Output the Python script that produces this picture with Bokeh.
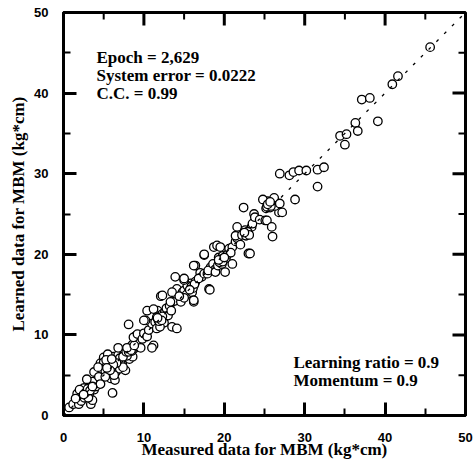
from bokeh.plotting import figure
from bokeh.models import LinearAxis, Range1d, SingleIntervalTicker, Label, Slope
from bokeh.embed import file_html
from bokeh.resources import INLINE

# measured (x) vs learned (y) values
measured = [
    0.7, 1.2, 1.9, 1.7, 2.2, 2.6, 3.4, 3.6, 2.4, 2.8, 3.0, 3.2, 3.5, 3.8, 2.9, 3.3, 4.0, 4.2, 3.6, 2.9,
    3.8, 4.4, 6.1, 2.5, 3.1, 4.6, 1.5, 2.0, 2.7, 3.0, 3.3, 3.6, 2.5,
    4.6, 5.0, 5.0, 4.8, 5.2, 5.4, 5.6, 5.8, 5.6, 6.0, 6.2, 6.4, 6.5, 6.6, 6.8, 6.9, 7.0, 7.2, 7.3, 7.5,
    7.6, 7.7, 7.8, 8.0, 8.0, 8.2, 8.3, 8.4, 8.6, 8.6, 8.8, 9.0, 9.2, 9.4, 9.6, 9.8, 5.9, 5.2, 6.4, 4.3,
    5.5, 6.8, 7.1, 7.9, 8.5, 6.3, 5.3, 7.4,
    7.0, 7.4, 7.8, 8.1, 8.4, 6.6, 6.2, 5.8, 5.4, 7.9, 8.8, 6.0,
    8.1, 9.0, 8.7, 9.2, 9.8, 10.0, 10.4, 10.6, 11.0, 11.2, 11.0, 10.2, 10.0, 10.4, 11.7, 11.2, 11.4, 11.6,
    11.8, 12.0, 12.1, 12.3, 12.5, 12.6, 12.8, 11.6, 12.0, 13.0, 13.5, 14.1, 13.2, 13.4, 13.8, 12.1, 12.3,
    13.3, 14.6, 13.9, 14.1, 14.8, 13.5, 15.0, 15.3, 15.6, 15.8, 16.0, 16.2, 16.4, 15.4, 16.2, 16.2, 15.0,
    14.4, 12.1, 11.9, 12.3, 12.2, 11.7, 15.9, 16.1, 16.3, 15.7,
    13.9, 15.0, 15.0, 16.4, 16.2, 17.0, 17.2, 16.8, 17.5, 17.9, 18.1, 18.2, 18.3, 18.0, 18.6, 18.9, 19.2,
    19.5, 19.7, 19.3, 19.8, 20.1, 20.2, 20.4, 21.0, 17.5, 17.5, 18.7, 19.1, 19.5, 20.6, 21.0, 20.8, 21.4,
    21.6, 22.0, 19.4, 19.6, 19.8, 19.3, 20.0,
    21.4, 21.6, 22.2, 22.8, 22.6, 23.0, 23.0, 23.2, 22.4, 23.4, 23.5, 23.7, 23.8, 24.4, 25.1, 25.3, 25.5,
    25.2, 25.7, 25.9, 25.4, 24.8, 26.2, 26.8, 26.0, 25.9, 27.2, 26.3, 22.7, 22.9, 23.1, 22.5,
    25.3, 25.6, 25.8, 25.4, 25.7,
    26.9, 28.1, 28.6, 29.3, 30.2, 31.6, 32.4, 31.6, 28.8, 26.9, 34.4, 35.2, 35.0, 36.3, 36.6, 37.1, 38.1,
    39.1, 40.9, 41.6, 45.6,
]
learned = [
    1.0, 1.4, 1.4, 2.7, 1.8, 2.2, 1.4, 1.9, 2.9, 2.5, 3.0, 2.7, 3.3, 3.2, 3.6, 3.8, 3.6, 4.0, 4.2, 4.5,
    5.4, 4.8, 2.8, 3.4, 2.2, 3.9, 2.1, 3.2, 2.8, 3.3, 3.1, 3.6, 2.6,
    6.5, 7.2, 6.6, 5.8, 5.5, 6.2, 7.0, 6.0, 5.2, 6.5, 7.3, 6.0, 5.4, 6.8, 7.5, 6.2, 5.8, 7.0, 6.5, 7.6,
    8.0, 5.6, 7.2, 8.2, 7.6, 7.0, 8.5, 7.8, 8.8, 7.3, 8.3, 9.0, 8.6, 9.3, 8.4, 9.8, 4.6, 4.8, 4.4, 6.0,
    7.6, 8.4, 6.6, 7.4, 8.0, 5.0, 6.9, 6.0,
    7.1, 7.3, 7.9, 7.9, 8.1, 6.5, 6.3, 5.6, 5.9, 8.4, 8.7, 7.0,
    11.3, 9.9, 9.7, 10.1, 9.5, 10.2, 9.8, 10.6, 11.4, 8.7, 8.4, 11.8, 11.8, 13.0, 13.0, 13.2, 11.6, 12.2,
    11.8, 12.4, 12.0, 12.6, 11.5, 12.8, 13.3, 10.8, 11.0, 12.4, 11.0, 10.8, 13.6, 13.0, 14.2, 14.8, 14.9,
    14.1, 14.1, 15.1, 15.7, 15.3, 15.3, 15.5, 15.0, 15.8, 16.4, 15.3, 16.1, 16.6, 16.1, 14.1, 14.3, 14.6,
    14.8, 12.1, 11.7, 12.3, 11.8, 12.1, 16.0, 15.8, 16.3, 15.6,
    17.2, 16.8, 17.0, 18.6, 18.6, 17.7, 17.2, 17.0, 17.6, 17.6, 15.7, 15.6, 18.4, 18.0, 18.8, 17.8, 18.6,
    19.2, 18.8, 19.6, 19.8, 17.8, 19.5, 20.0, 18.8, 19.9, 20.0, 20.9, 21.1, 20.9, 20.7, 20.9, 20.2, 21.6,
    22.0, 21.2, 19.0, 19.4, 19.1, 19.3, 19.6,
    22.3, 23.4, 22.4, 22.5, 23.0, 22.6, 20.1, 20.1, 25.8, 23.4, 23.8, 25.0, 24.6, 24.3, 24.2, 24.2, 26.1,
    25.7, 25.8, 26.4, 26.6, 26.8, 27.0, 25.2, 22.2, 23.4, 25.2, 26.0, 22.3, 22.8, 22.4, 22.7,
    25.9, 26.3, 26.0, 26.2, 26.5,
    30.0, 29.8, 30.2, 30.4, 30.4, 30.5, 30.8, 28.4, 26.8, 26.3, 34.7, 34.9, 33.6, 36.3, 35.3, 39.2, 39.4,
    36.5, 41.1, 42.1, 45.7,
]

x_title = "Measured data for MBM (kg*cm)"
y_title = "Learned data for MBM (kg*cm)"
upper_notes = ["Epoch = 2,629", "System error = 0.0222", "C.C. = 0.99"]
lower_notes = ["Learning ratio = 0.9", "Momentum = 0.9"]
major_ticks = [0, 10, 20, 30, 40, 50]
minor_ticks = [5, 15, 25, 35, 45]
AX_MIN, AX_MAX = 0, 50

SERIF = "Liberation Serif"
SANS = "Liberation Sans"
FRAME_W, FRAME_H = 402, 403
MAJOR_IN, MINOR_IN = 13, 7

p = figure(
    width=476, height=463, output_backend="svg", toolbar_location=None,
    x_range=Range1d(AX_MIN, AX_MAX), y_range=Range1d(AX_MIN, AX_MAX),
    frame_width=FRAME_W, frame_height=FRAME_H,
    min_border_left=63, min_border_right=11, min_border_top=12, min_border_bottom=48,
    x_axis_location=None, y_axis_location=None,
)
p.grid.visible = False
p.outline_line_color = "black"
p.outline_line_width = 3
p.background_fill_color = "white"
p.border_fill_color = "white"


def make_axis(label):
    ax = LinearAxis(ticker=SingleIntervalTicker(interval=10, num_minor_ticks=2))
    ax.axis_line_width = 3
    ax.major_tick_in = MAJOR_IN
    ax.major_tick_out = 0
    ax.minor_tick_in = MINOR_IN
    ax.minor_tick_out = 0
    ax.major_tick_line_width = 3
    ax.minor_tick_line_width = 2
    ax.major_label_text_font = SANS
    ax.major_label_text_font_style = "bold"
    ax.major_label_text_font_size = "13px"
    ax.major_label_text_color = "black"
    ax.axis_label = label
    ax.axis_label_text_font = SERIF
    ax.axis_label_text_font_style = "bold"
    ax.axis_label_text_font_size = "17px"
    ax.axis_label_text_color = "black"
    return ax


bottom = make_axis(x_title)
bottom.major_label_standoff = 17
bottom.axis_label_standoff = -5
left = make_axis(y_title)
left.major_label_standoff = 15
left.axis_label_standoff = 3
p.add_layout(bottom, "below")
p.add_layout(left, "left")

# inward ticks on the top and right frame edges
span = AX_MAX - AX_MIN
maj_x = MAJOR_IN * span / FRAME_W
min_x = MINOR_IN * span / FRAME_W
maj_y = MAJOR_IN * span / FRAME_H
min_y = MINOR_IN * span / FRAME_H
top_edge = [AX_MAX] * len(major_ticks)
top_edge_m = [AX_MAX] * len(minor_ticks)
p.segment(x0=major_ticks, y0=top_edge, x1=major_ticks, y1=[AX_MAX - maj_y] * len(major_ticks),
          line_color="black", line_width=3)
p.segment(x0=minor_ticks, y0=top_edge_m, x1=minor_ticks, y1=[AX_MAX - min_y] * len(minor_ticks),
          line_color="black", line_width=2)
p.segment(x0=top_edge, y0=major_ticks, x1=[AX_MAX - maj_x] * len(major_ticks), y1=major_ticks,
          line_color="black", line_width=3)
p.segment(x0=top_edge_m, y0=minor_ticks, x1=[AX_MAX - min_x] * len(minor_ticks), y1=minor_ticks,
          line_color="black", line_width=2)

p.add_layout(Slope(gradient=1, y_intercept=0, line_color="black", line_width=1.3,
                   line_dash="3 8"))

p.scatter(measured, learned, marker="circle", size=8.5, fill_color="white", fill_alpha=1.0,
          line_color="black", line_width=1.3)

for i, t in enumerate(upper_notes):
    p.add_layout(Label(x=4.1, y=44.4 - i * 2.25, text=t, text_font=SERIF,
                       text_font_style="bold", text_font_size="17px", text_color="black",
                       text_baseline="alphabetic"))
for i, t in enumerate(lower_notes):
    p.add_layout(Label(x=28.6, y=6.6 - i * 2.25, text=t, text_font=SERIF,
                       text_font_style="bold", text_font_size="17px", text_color="black",
                       text_baseline="alphabetic"))

open("out.html", "w").write(file_html(p, INLINE))
